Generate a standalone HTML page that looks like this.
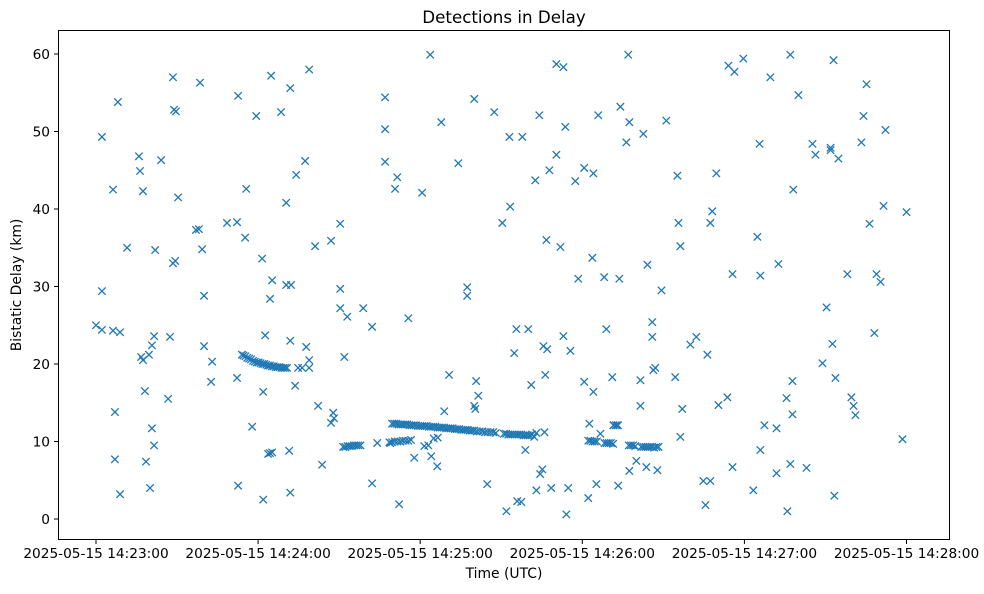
<!DOCTYPE html>
<html><head><meta charset="utf-8">
<style>
body{margin:0;background:#fff;font-family:"DejaVu Sans","Liberation Sans",sans-serif;}
svg text{font-family:"DejaVu Sans","Liberation Sans",sans-serif;fill:#000;}
</style></head>
<body>
<svg id="chart" width="984" height="590" viewBox="0 0 984 590" xmlns="http://www.w3.org/2000/svg">
<rect width="984" height="590" fill="#fff"/>
<text x="504" y="23" font-size="16.7" text-anchor="middle">Detections in Delay</text>
<text x="504" y="578" font-size="13.9" text-anchor="middle">Time (UTC)</text>
<text x="21" y="285" font-size="13.9" text-anchor="middle" transform="rotate(-90 21 285)">Bistatic Delay (km)</text>
<g id="ticks"></g>
<g id="marks"></g>
<rect x="58.5" y="30.5" width="891" height="509" fill="none" stroke="#000" stroke-width="1"/>
</svg>
<script>
// seconds after 14:23:00
const xTickSeconds = [0,60,120,180,240,300];
const xTickLabels = ["2025-05-15 14:23:00","2025-05-15 14:24:00","2025-05-15 14:25:00","2025-05-15 14:26:00","2025-05-15 14:27:00","2025-05-15 14:28:00"];
const yTicks = [0,10,20,30,40,50,60];
const scatterPoints = [
[0,25.0],[2.2,24.4],[2.2,49.3],[2.2,29.4],[6.3,24.3],[6.3,42.5],[7.0,13.8],[7.0,7.7],[8.1,53.8],[8.9,24.1],[8.9,3.2],[11.5,35.0],
[15.9,46.8],[16.3,44.9],[17.4,42.3],[16.7,20.9],[17.4,20.5],[18.1,16.5],[18.5,7.4],[19.6,21.2],[20.7,22.4],[20.7,11.7],[21.5,23.6],[20,4.0],[21.5,9.5],[21.9,34.7],[24.1,46.3],
[26.7,15.5],[27.4,23.5],[28.5,57.0],[28.9,52.8],[29.6,52.6],[28.5,33.0],[29.3,33.3],[30.4,41.5],[37,37.3],[38.1,37.4],[38.5,56.3],[39.3,34.8],[40,28.8],[40,22.3],[43,20.3],[42.6,17.7],
[48.5,38.2],[52.2,38.3],[52.2,18.2],[52.6,4.3],[52.6,54.6],[55.6,42.6],[55.2,36.3],[57.8,11.9],[59.3,52.0],[61.5,33.6],[61.9,16.4],[61.9,2.5],[62.6,23.7],[64.4,28.4],[64.8,57.2],[65.2,30.8],
[68.5,52.5],[70.4,30.2],[70.4,40.8],[71.9,55.6],[72.2,30.2],[71.9,23.0],[71.5,8.8],[71.9,3.4],[74.1,44.4],[73.7,17.2],[74.8,19.5],[76.3,19.5],[77.4,46.2],[77.8,22.2],[78.9,58.0],[78.9,20.5],[78.9,19.5],
[81.1,35.2],[82.2,14.6],[83.7,7.0],[87,35.9],[87,12.4],[87.8,13.7],[88.1,13.0],[90.4,38.1],[90.4,29.7],[90.4,27.2],[91.9,20.9],[93,26.1],[98.9,27.2],[102.2,24.8],[102.2,4.6],[104.1,9.8],
[107,54.4],[107,50.3],[107,46.1],[108.9,9.8],[111.5,44.1],[110.7,42.6],[112.2,1.9],[115.6,25.9],[117.8,7.9],[120.7,42.1],[121.5,9.4],[123.7,59.9],[124.1,8.1],[126.3,6.8],[127.8,51.2],[128.9,13.9],[130.7,18.6],
[134.1,45.9],[137.4,29.9],[137.4,28.8],[140,54.2],[140,14.6],[140.4,14.2],[140.7,17.8],[141.5,15.9],[144.8,4.5],[147.4,52.5],[150.4,38.2],[151.9,1.0],[153,49.3],[153.3,40.3],[154.8,21.4],[155.6,24.5],
[155.9,2.3],[157.4,2.2],[157.8,49.3],[158.9,8.9],[160,24.5],[161.1,17.3],[162.6,43.7],[163,3.7],[164.1,52.1],[164.4,5.8],[165.2,6.4],[165.6,22.3],[166.7,36.0],[166.3,18.6],[167,21.9],[167.8,45.0],[168.5,4.0],
[170.4,47.0],[170.4,58.7],[171.9,35.1],[173,23.6],[173,58.3],[173.7,50.6],[174.1,0.6],[174.8,4.0],[175.6,21.7],[177.4,43.6],[178.5,31.0],[180.7,45.3],[180.7,17.7],[182.2,2.7],[182.6,12.3],[183.7,33.7],
[184.1,44.6],[184.1,16.4],[185.2,4.5],[185.9,52.1],[186.7,11.0],[188.1,31.2],[188.9,24.5],[191.1,18.3],[191.5,12.1],[193,12.1],[193.7,31.0],[194.1,53.2],[193.3,4.3],[196.3,48.6],[197,59.9],[197.4,51.2],
[197.4,6.2],[200,7.5],[201.5,17.9],[201.5,14.6],[202.6,49.7],[203.7,6.7],[204.1,32.8],[205.9,25.4],[205.9,23.5],[206.3,19.2],[207,19.5],[207.8,6.3],[209.3,29.5],[211.1,51.4],[214.4,18.3],[215.2,44.3],
[215.6,38.2],[216.3,35.2],[216.3,10.6],[217,14.2],[220,22.5],[222.2,23.5],[224.8,4.9],[225.6,1.8],[226.3,21.2],[227.4,4.9],[227.4,38.2],[228.1,39.7],[229.6,44.6],[230.4,14.7],[233.7,15.7],[234.1,58.5],
[235.6,31.6],[235.6,6.7],[236.3,57.7],[239.6,59.4],[243.3,3.7],[244.8,36.4],[245.6,48.4],[245.9,31.4],[245.9,8.9],[247.4,12.1],[249.6,57.0],[251.9,11.7],[251.9,5.9],[252.6,32.9],[255.6,15.6],[255.9,1.0],
[257,59.9],[257,7.1],[257.8,17.8],[257.8,13.5],[258.1,42.5],[260,54.7],[263,6.6],[265.2,48.4],[266.3,47.0],[268.9,20.1],[270.4,27.3],[271.9,47.9],[271.9,47.6],[273,59.2],[272.6,22.6],[273.3,3.0],
[273.7,18.2],[274.8,46.5],[278.1,31.6],[279.6,15.7],[280.4,14.6],[281.1,13.4],[283.3,48.6],[284.1,52.0],[285.2,56.1],[286.3,38.1],[288.1,24.0],[288.9,31.6],[290.4,30.6],[291.5,40.4],[292.2,50.2],
[298.5,10.3],[300,39.6]
];
const trackPoints = [
[54.0,21.2],[54.6,21.1],[55.3,21.0],[56.0,20.8],[56.7,20.7],[57.4,20.6],[58.1,20.4],[58.8,20.3],[59.5,20.2],[60.2,20.2],[60.9,20.1],[61.6,20.0],[62.3,20.0],[63.0,19.9],[63.7,19.8],[64.4,19.8],[65.1,19.7],[65.8,19.7],[66.5,19.6],[67.2,19.6],[67.9,19.6],[68.6,19.5],[69.3,19.5],[70.0,19.5],[70.7,19.5],
[63.7,8.4],[64.4,8.5],[65.2,8.6],
[91.5,9.3],[92.3,9.3],[93.1,9.4],[93.9,9.4],[94.7,9.4],[95.5,9.5],[96.3,9.5],[97.1,9.5],[97.9,9.5],
[109.6,12.3],[110.4,12.3],[111.2,12.3],[112.0,12.2],[112.8,12.2],[113.6,12.2],[114.4,12.2],[115.2,12.2],[116.0,12.1],[116.8,12.1],[117.6,12.1],[118.4,12.1],[119.2,12.0],[120.0,12.0],[120.8,12.0],[121.6,12.0],[122.4,12.0],[123.2,11.9],[124.0,11.9],[124.8,11.9],[125.6,11.9],[126.4,11.8],[127.2,11.8],[128.0,11.8],[128.8,11.8],[129.6,11.7],[130.4,11.7],[131.2,11.7],[132.0,11.7],[132.8,11.6],[133.6,11.6],[134.4,11.6],[135.2,11.5],[136.0,11.5],[136.8,11.5],[137.6,11.5],[138.4,11.4],[139.2,11.4],[140.0,11.4],[141.0,11.3],[142.0,11.3],[143.0,11.3],[144.0,11.2],[145.0,11.2],[146.0,11.2],[147.0,11.2],[148.0,11.1],
[108.6,9.9],[109.6,9.9],[110.6,10.0],[111.6,10.0],[112.6,10.0],[113.6,10.1],[114.6,10.1],[115.6,10.1],[116.6,10.2],[123.0,9.5],[125.0,10.4],[126.5,10.5],
[151.0,11.0],[151.8,11.0],[152.6,10.9],[153.4,10.9],[154.2,10.9],[155.0,10.9],[155.8,10.9],[156.6,10.9],[157.4,10.9],[158.2,10.8],[159.0,10.8],[159.8,10.8],[160.6,10.8],[161.4,10.9],[163.0,11.1],[166.0,11.2],[162.2,10.6],
[182.2,10.1],[183.0,10.1],[183.8,10.0],[184.6,10.0],[185.4,10.0],[188.2,9.8],[189.0,9.8],[189.8,9.8],[190.6,9.8],[191.4,9.7],[191.6,12.1],[192.4,12.1],[193.2,12.1],
[197.2,9.5],[198.0,9.5],[198.8,9.5],[199.6,9.4],[201.8,9.3],[202.6,9.3],[203.4,9.3],[204.2,9.3],[205.0,9.3],[205.8,9.3],[206.6,9.2],[207.4,9.3],[208.2,9.3]
];
const X0=96, PXS=162.1/60, Y0=519, PXK=7.75;
function xs(t){return X0+t*PXS;}
function ys(v){return Y0-v*PXK;}
const NS="http://www.w3.org/2000/svg";
const tg=document.getElementById('ticks');
xTickSeconds.forEach((t,i)=>{
  const l=document.createElementNS(NS,'line');
  
  
  l.setAttribute('x1',xs(t));l.setAttribute('x2',xs(t));l.setAttribute('y1',540);l.setAttribute('y2',544);l.setAttribute('stroke','#000');
  tg.appendChild(l);
  const tx=document.createElementNS(NS,'text');
  
  
  tx.setAttribute('x',xs(t));tx.setAttribute('y',558);tx.setAttribute('font-size','13.7');tx.setAttribute('text-anchor','middle');
  tx.textContent=xTickLabels[i];tg.appendChild(tx);
});
yTicks.forEach(v=>{
  const l=document.createElementNS(NS,'line');
  
  
  l.setAttribute('x1',54);l.setAttribute('x2',58);l.setAttribute('y1',ys(v));l.setAttribute('y2',ys(v));l.setAttribute('stroke','#000');
  tg.appendChild(l);
  const tx=document.createElementNS(NS,'text');
  
  
  tx.setAttribute('x',50);tx.setAttribute('y',ys(v)+5);tx.setAttribute('font-size','13.7');tx.setAttribute('text-anchor','end');
  tx.textContent=v;tg.appendChild(tx);
});
const mg=document.getElementById('marks');
scatterPoints.concat(trackPoints).forEach(p=>{
  const x=xs(p[0]),y=ys(p[1]),r=3.7;
  const path=document.createElementNS(NS,'path');
  
  
  path.setAttribute('d',`M${x-r},${y-r}L${x+r},${y+r}M${x-r},${y+r}L${x+r},${y-r}`);
  path.setAttribute('stroke','#1f77b4');path.setAttribute('stroke-width','1.3');path.setAttribute('fill','none');
  mg.appendChild(path);
});
</script>
</body></html>
